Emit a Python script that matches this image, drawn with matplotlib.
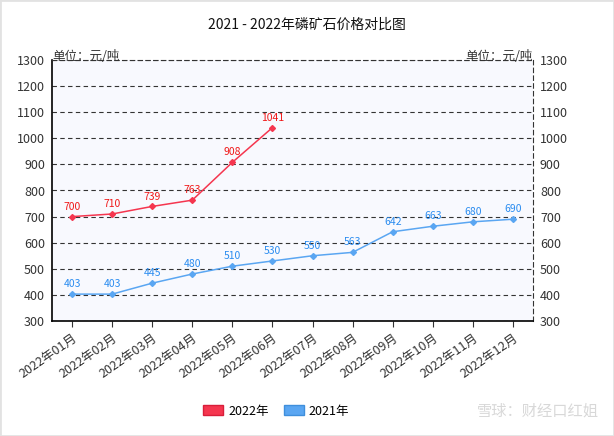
import matplotlib

matplotlib.use("Agg")
import matplotlib.pyplot as plt
from matplotlib.patches import Patch

plt.rcParams["font.family"] = ["Noto Sans CJK SC", "DejaVu Sans"]

MONTHS = [f"2022年{m:02d}月" for m in range(1, 13)]
PRICE_2022 = [700, 710, 739, 763, 908, 1041]
PRICE_2021 = [403, 403, 445, 480, 510, 530, 550, 563, 642, 663, 680, 690]
Y_TICKS = list(range(300, 1301, 100))

RED = "#f5364f"
RED_TEXT = "#f01818"
BLUE = "#5aa6f2"
BLUE_TEXT = "#2a8cf0"
TEXT = "#333333"

fig = plt.figure(figsize=(6.14, 4.36), dpi=100)
fig.patch.set_facecolor("white")
ax = fig.add_axes([52 / 614, 1 - 321 / 436, 481 / 614, 261 / 436])
ax.set_facecolor("#f8f9fe")

x21 = list(range(len(PRICE_2021)))
x22 = list(range(len(PRICE_2022)))
ax.plot(x22, PRICE_2022, color=RED, lw=1.1, marker="D", ms=3, zorder=3)
ax.plot(x21, PRICE_2021, color=BLUE, lw=1.1, marker="D", ms=3, zorder=3)
for x, v in zip(x22, PRICE_2022):
    ax.annotate(str(v), (x, v), xytext=(0, 3.5), textcoords="offset points",
                ha="center", va="bottom", fontsize=7.5, color=RED_TEXT)
for x, v in zip(x21, PRICE_2021):
    ax.annotate(str(v), (x, v), xytext=(0, 3.5), textcoords="offset points",
                ha="center", va="bottom", fontsize=7.5, color=BLUE_TEXT)

ax.set_xlim(-0.5, len(MONTHS) - 0.5)
ax.set_ylim(300, 1300)
ax.set_yticks(Y_TICKS)
ax.set_yticklabels([str(v) for v in Y_TICKS], fontsize=9, color=TEXT)
ax.tick_params(axis="y", length=0, pad=5, labelright=True, right=False)
ax.set_xticks(range(len(MONTHS)))
ax.set_xticklabels(MONTHS, rotation=35, ha="right", rotation_mode="anchor",
                   fontsize=9, color=TEXT)
ax.tick_params(axis="x", length=4, color="#333333")

ax.grid(axis="y", color="#333333", ls=(0, (4, 3)), lw=0.8)
ax.set_axisbelow(True)
for side in ("left", "bottom"):
    ax.spines[side].set_color("black")
    ax.spines[side].set_linewidth(1.2)
for side in ("top", "right"):
    ax.spines[side].set_color("#333333")
    ax.spines[side].set_linestyle((0, (4, 3)))
    ax.spines[side].set_linewidth(0.8)

fig.text(0.5, 1 - 25 / 436, "2021 - 2022年磷矿石价格对比图", ha="center", va="center",
         fontsize=10, color="#111111")
ax.text(0.0, 0.99, "单位：元/吨", transform=ax.transAxes, ha="left", va="bottom",
        fontsize=9, color=TEXT)
ax.text(1.0, 0.99, "单位：元/吨", transform=ax.transAxes, ha="right", va="bottom",
        fontsize=9, color=TEXT)

handles = [Patch(facecolor=RED, edgecolor="#d81e3a", label="2022年"),
           Patch(facecolor=BLUE, edgecolor="#3f8fdc", label="2021年")]
fig.legend(handles=handles, loc="center", bbox_to_anchor=(0.45, 1 - 411 / 436), ncol=2,
           frameon=False, fontsize=9, handlelength=1.6, handleheight=0.9,
           columnspacing=1.2, handletextpad=0.4)

fig.text(0.975, 1 - 411 / 436, "雪球：财经口红姐", ha="right", va="center",
         fontsize=11, color="#d8d8d8")

border = plt.Rectangle((0, 0), 1, 1, transform=fig.transFigure, fill=False,
                       edgecolor="#e2e2e2", lw=2)
fig.patches.append(border)

fig.savefig("out.png", dpi=100)
